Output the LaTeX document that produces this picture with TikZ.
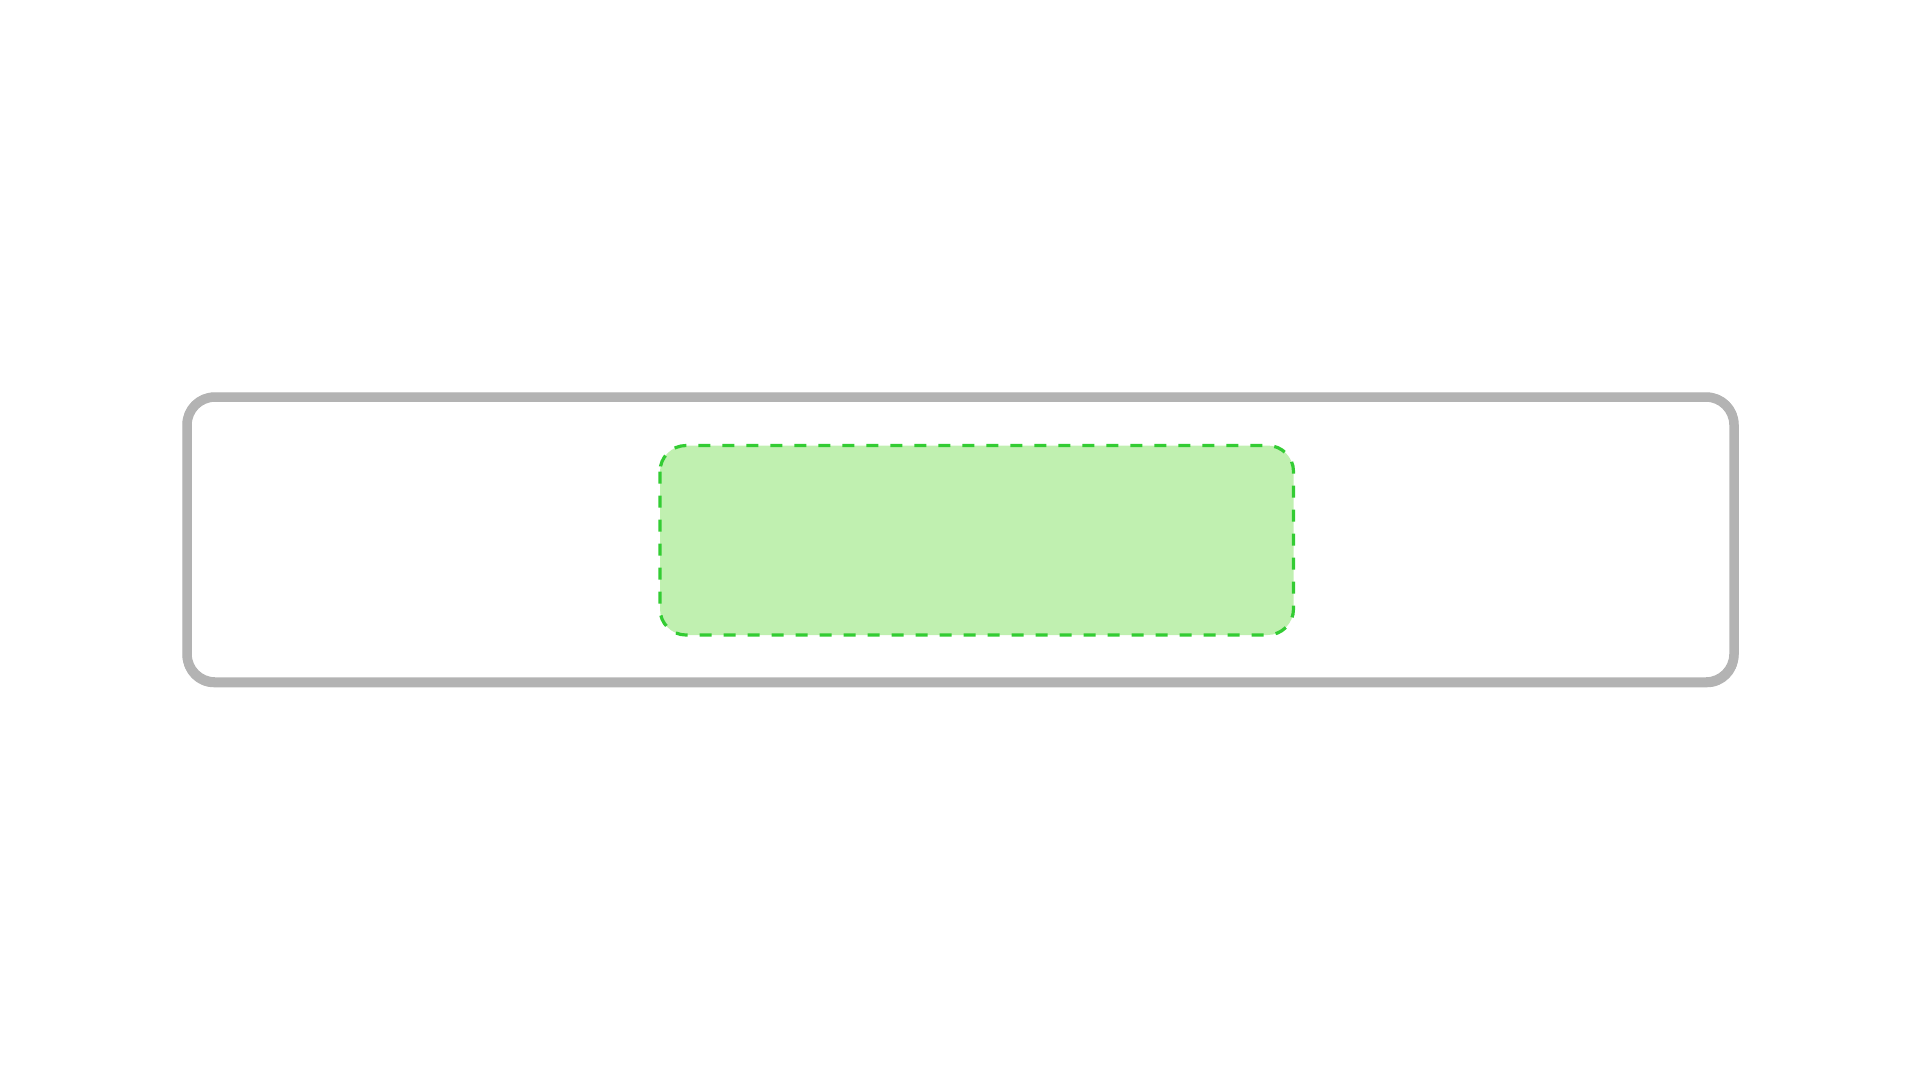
\documentclass[tikz,border=0pt]{standalone}
\definecolor{framegray}{HTML}{B3B3B3}
\definecolor{zonefill}{HTML}{C0F0B0}
\definecolor{zoneline}{HTML}{33CC33}
\tikzset{
  frameline/.style={draw=framegray, line width=9.5pt, rounded corners=28pt},
  frameedge/.style={draw=framegray, line width=2.5pt, rounded corners=30pt},
  zone/.style={fill=zonefill, draw=zoneline, line width=3.2pt,
    dash pattern=on 12pt off 12pt, rounded corners=26pt}
}
\begin{document}
\begin{tikzpicture}[x=1pt,y=-1pt]
\useasboundingbox (0,0) rectangle (1920,1080);
\coordinate (fo1) at (187,397);
\coordinate (fo2) at (1734,682);
\coordinate (fe1) at (184,394);
\coordinate (fe2) at (1737,686);
\coordinate (zo1) at (660,445.5);
\coordinate (zo2) at (1293.5,635);
\path[frameline] (fo1) rectangle (fo2);
\path[frameedge] (fe1) rectangle (fe2);
\path[zone] (zo1) rectangle (zo2);
\end{tikzpicture}
\end{document}
